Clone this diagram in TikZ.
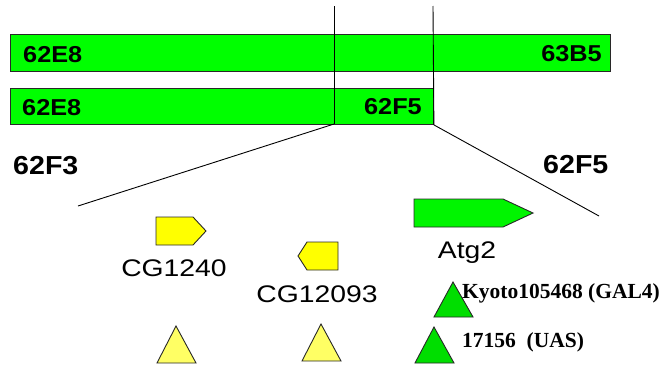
\documentclass[tikz,border=0pt]{standalone}
\usepackage{fontspec}
\newfontfamily\bandfont[FakeStretch=1.1]{Liberation Sans}
\newfontfamily\genefont[FakeStretch=1.18]{Liberation Sans}
\newfontfamily\insfont{Liberation Serif}
\definecolor{bandgreen}{RGB}{0,255,0}
\definecolor{genegreen}{RGB}{0,245,0}
\definecolor{geneyellow}{RGB}{255,255,0}
\definecolor{insyellow}{RGB}{255,255,100}
\definecolor{insgreen}{RGB}{0,222,0}
\definecolor{edge}{RGB}{40,40,40}
\tikzset{
  bandbox/.style={draw=edge, line width=0.9pt, fill=bandgreen, rectangle, inner sep=0pt, anchor=north west},
  bandlabel/.style={inner sep=0pt, font=\bandfont\bfseries\fontsize{23}{23}\selectfont},
  sitelabel/.style={inner sep=0pt, font=\bandfont\bfseries\fontsize{26}{26}\selectfont},
  genelabel/.style={inner sep=0pt, anchor=base, font=\genefont\fontsize{24}{24}\selectfont},
  inslabel/.style={inner sep=0pt, anchor=base west, font=\insfont\bfseries\fontsize{21.5}{21.5}\selectfont},
  guide/.style={draw=black, line width=0.9pt},
  gene/.style={draw=edge, line width=0.9pt, line join=miter},
  insertion/.style={draw=edge, line width=0.9pt, line join=miter},
}
\begin{document}
\begin{tikzpicture}[x=1pt, y=-1pt]
\useasboundingbox[fill=white] (0,0) rectangle (661,367);

% deficiency bands
\node[bandbox, minimum width=600pt, minimum height=37pt] (dfA) at (10,34) {};
\node[bandbox, minimum width=423pt, minimum height=36pt] (dfB) at (10,88) {};
\node[bandlabel, anchor=base west] (dfAl) at (23,62) {62E8};
\node[bandlabel, anchor=base east] (dfAr) at (602,61) {63B5};
\node[bandlabel, anchor=base west] (dfBl) at (22,115) {62E8};
\node[bandlabel, anchor=base east] (dfBr) at (422,114) {62F5};

% breakpoint guides and the zoomed interval
\coordinate (gL) at (334,6);
\coordinate (gR) at (433,6);
\coordinate (bL) at (334,124);
\coordinate (bR) at (dfB.south east);
\coordinate (zL) at (78,206);
\coordinate (zR) at (599,216);
\draw[guide] (gL) -- (bL);
\draw[guide] (gR) -- (bR);
\draw[guide] (bL) -- (zL);
\draw[guide] (bR) -- (zR);

\node[sitelabel, anchor=base west] (siteL) at (13,174) {62F3};
\node[sitelabel, anchor=base west] (siteR) at (543,173) {62F5};

% genes
\draw[gene, fill=geneyellow] (156,217) -- (193,217) -- (206,231) -- (193,245) -- (156,245) -- cycle;
\draw[gene, fill=geneyellow] (338,242) -- (307,242) -- (298,256) -- (307,270) -- (338,270) -- cycle;
\draw[gene, fill=genegreen] (414,199) -- (503,199) -- (533,213) -- (503,227) -- (414,227) -- cycle;
\node[genelabel] (g1) at (174,276) {CG1240};
\node[genelabel] (g2) at (317,302) {CG12093};
\node[genelabel] (g3) at (467,258) {Atg2};

% insertions
\draw[insertion, fill=insyellow] (176,326) -- (196,363) -- (157,363) -- cycle;
\draw[insertion, fill=insyellow] (321,324) -- (341,361) -- (302,361) -- cycle;
\draw[insertion, fill=insgreen] (453,282) -- (473,317) -- (434,317) -- cycle;
\draw[insertion, fill=insgreen] (434,327) -- (454,363) -- (415,363) -- cycle;
\node[inslabel] (i1) at (462,298) {Kyoto105468 (GAL4)};
\node[inslabel] (i2) at (462,347) {17156\ \ (UAS)};
\end{tikzpicture}
\end{document}
